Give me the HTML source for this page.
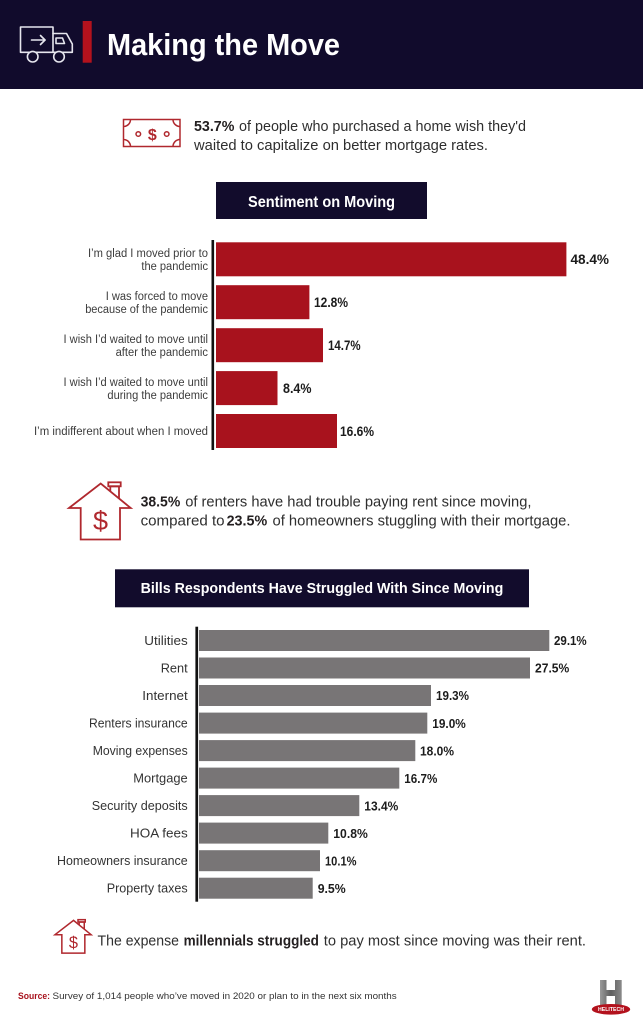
<!DOCTYPE html>
<html>
<head>
<meta charset="utf-8">
<style>
html,body{margin:0;padding:0;background:#fff;}
svg{display:block;}
text{font-family:"Liberation Sans",sans-serif;}
</style>
</head>
<body>
<svg width="643" height="1024" viewBox="0 0 643 1024" xmlns="http://www.w3.org/2000/svg">
<rect x="0" y="0" width="643" height="1024" fill="#ffffff"/>
<!-- Header -->
<rect x="0" y="0" width="643" height="89" fill="#110b2c"/>
<g fill="none" stroke="#e6e6ee" stroke-width="1.6" stroke-linejoin="round" stroke-linecap="round">
  <rect x="20.5" y="27" width="32.5" height="25.3"/>
  <line x1="31.5" y1="40" x2="45" y2="40"/>
  <polyline points="40.5,35.5 45,40 40.5,44.5"/>
  <path d="M53,33.5 L66.5,33.5 L72.3,44 L72.3,52.3 L53,52.3"/>
  <path d="M56,38 L62.5,38 L64.5,43.5 L56,43.5 Z"/>
  <circle cx="32.7" cy="56.7" r="5.3" fill="#110b2c"/>
  <circle cx="59" cy="56.7" r="5.3" fill="#110b2c"/>
</g>
<rect x="82.7" y="21" width="9" height="41.7" fill="#b3121d"/>
<text x="107" y="55" font-size="31" font-weight="bold" fill="#ffffff" textLength="233" lengthAdjust="spacingAndGlyphs">Making the Move</text>

<!-- Money icon -->
<g fill="none" stroke="#b0282e" stroke-width="1.5">
  <rect x="123.5" y="119.5" width="56.5" height="27"/>
  <path d="M123.5,126.5 A7,7 0 0 0 130.5,119.5"/>
  <path d="M173,119.5 A7,7 0 0 0 180,126.5"/>
  <path d="M123.5,139.5 A7,7 0 0 1 130.5,146.5"/>
  <path d="M173,146.5 A7,7 0 0 1 180,139.5"/>
  <circle cx="138.3" cy="134" r="2.3"/>
  <circle cx="166.7" cy="134" r="2.3"/>
</g>
<text x="152.3" y="140" font-size="16" font-weight="bold" fill="#b0282e" text-anchor="middle">$</text>

<text x="194" y="131" font-size="15" font-weight="bold" fill="#231f20" textLength="40.4" lengthAdjust="spacingAndGlyphs">53.7%</text>
<text x="239" y="131" font-size="15" fill="#2e2e2e" textLength="287" lengthAdjust="spacingAndGlyphs">of people who purchased a home wish they'd</text>
<text x="194" y="150" font-size="15" fill="#2e2e2e" textLength="294" lengthAdjust="spacingAndGlyphs">waited to capitalize on better mortgage rates.</text>

<!-- Sentiment box -->
<rect x="216" y="182" width="211" height="37" fill="#120c2c"/>
<text x="248" y="207" font-size="16" font-weight="bold" fill="#ffffff" textLength="147" lengthAdjust="spacingAndGlyphs">Sentiment on Moving</text>

<!-- Chart 1 -->
<g fill="#a8121d">
  <rect x="216" y="242.3" width="350.4" height="34"/>
  <rect x="216" y="285.2" width="93.4" height="34"/>
  <rect x="216" y="328.2" width="107" height="34"/>
  <rect x="216" y="371.1" width="61.5" height="34"/>
  <rect x="216" y="414" width="121" height="34"/>
</g>
<rect x="211.5" y="240" width="2.6" height="210" fill="#111"/>
<g font-size="11.5" fill="#3c3c3c" text-anchor="end">
  <text x="208" y="257" textLength="120" lengthAdjust="spacingAndGlyphs">I’m glad I moved prior to</text>
  <text x="208" y="270" textLength="66.6" lengthAdjust="spacingAndGlyphs">the pandemic</text>
  <text x="208" y="300" textLength="102.3" lengthAdjust="spacingAndGlyphs">I was forced to move</text>
  <text x="208" y="313" textLength="122.8" lengthAdjust="spacingAndGlyphs">because of the pandemic</text>
  <text x="208" y="343" textLength="144.5" lengthAdjust="spacingAndGlyphs">I wish I’d waited to move until</text>
  <text x="208" y="356" textLength="92.4" lengthAdjust="spacingAndGlyphs">after the pandemic</text>
  <text x="208" y="386" textLength="144.5" lengthAdjust="spacingAndGlyphs">I wish I’d waited to move until</text>
  <text x="208" y="399" textLength="100.6" lengthAdjust="spacingAndGlyphs">during the pandemic</text>
  <text x="208" y="435.2" textLength="174" lengthAdjust="spacingAndGlyphs">I’m indifferent about when I moved</text>
</g>
<g font-size="14" font-weight="bold" fill="#1c1c1c">
  <text x="570.5" y="264" textLength="38.5" lengthAdjust="spacingAndGlyphs">48.4%</text>
  <text x="314" y="307" textLength="34" lengthAdjust="spacingAndGlyphs">12.8%</text>
  <text x="328" y="350" textLength="32.6" lengthAdjust="spacingAndGlyphs">14.7%</text>
  <text x="283" y="393" textLength="28.5" lengthAdjust="spacingAndGlyphs">8.4%</text>
  <text x="340" y="436" textLength="34" lengthAdjust="spacingAndGlyphs">16.6%</text>
</g>

<!-- House icon big -->
<g id="house" fill="none" stroke="#b0282e" stroke-width="1.8" stroke-linejoin="miter">
  <path d="M69,508 L100.7,483.5 L130.7,508 L120,508 L120,539.5 L80.7,539.5 L80.7,508 Z"/>
  <path d="M110.3,491 L110.3,486.3 L119,486.3 L119,498.3"/>
  <rect x="108.3" y="482.3" width="12.4" height="4"/>
</g>
<text x="100.5" y="530" font-size="27" fill="#b0282e" text-anchor="middle">$</text>

<text x="140.6" y="506.7" font-size="15" font-weight="bold" fill="#231f20" textLength="39.7" lengthAdjust="spacingAndGlyphs">38.5%</text>
<text x="185.2" y="506.7" font-size="15" fill="#2e2e2e" textLength="346.3" lengthAdjust="spacingAndGlyphs">of renters have had trouble paying rent since moving,</text>
<text x="140.6" y="525.7" font-size="15" fill="#2e2e2e" textLength="84" lengthAdjust="spacingAndGlyphs">compared to</text>
<text x="226.6" y="525.7" font-size="15" font-weight="bold" fill="#231f20" textLength="40.6" lengthAdjust="spacingAndGlyphs">23.5%</text>
<text x="272.5" y="525.7" font-size="15" fill="#2e2e2e" textLength="298" lengthAdjust="spacingAndGlyphs">of homeowners stuggling with their mortgage.</text>

<!-- Bills box -->
<rect x="115" y="569.3" width="414" height="38" fill="#120c2c"/>
<text x="140.6" y="593" font-size="15" font-weight="bold" fill="#ffffff" textLength="362.7" lengthAdjust="spacingAndGlyphs">Bills Respondents Have Struggled With Since Moving</text>

<!-- Chart 2 -->
<g fill="#787576">
  <rect x="199" y="630" width="350.3" height="21"/>
  <rect x="199" y="657.5" width="331" height="21"/>
  <rect x="199" y="685" width="232" height="21"/>
  <rect x="199" y="712.6" width="228.3" height="21"/>
  <rect x="199" y="740.1" width="216.3" height="21"/>
  <rect x="199" y="767.6" width="200.3" height="21"/>
  <rect x="199" y="795.1" width="160.3" height="21"/>
  <rect x="199" y="822.6" width="129.3" height="21"/>
  <rect x="199" y="850.2" width="121" height="21"/>
  <rect x="199" y="877.7" width="113.7" height="21"/>
</g>
<rect x="195.4" y="626.7" width="2.7" height="275" fill="#111"/>
<g font-size="13" fill="#333" text-anchor="end">
  <text x="187.7" y="645" textLength="43.4" lengthAdjust="spacingAndGlyphs">Utilities</text>
  <text x="187.7" y="672.5" textLength="27" lengthAdjust="spacingAndGlyphs">Rent</text>
  <text x="187.7" y="700" textLength="45.4" lengthAdjust="spacingAndGlyphs">Internet</text>
  <text x="187.7" y="727.6" textLength="98.7" lengthAdjust="spacingAndGlyphs">Renters insurance</text>
  <text x="187.7" y="755.1" textLength="95" lengthAdjust="spacingAndGlyphs">Moving expenses</text>
  <text x="187.7" y="782.6" textLength="54.4" lengthAdjust="spacingAndGlyphs">Mortgage</text>
  <text x="187.7" y="810.1" textLength="96" lengthAdjust="spacingAndGlyphs">Security deposits</text>
  <text x="187.7" y="837.6" textLength="57.7" lengthAdjust="spacingAndGlyphs">HOA fees</text>
  <text x="187.7" y="865.2" textLength="130.7" lengthAdjust="spacingAndGlyphs">Homeowners insurance</text>
  <text x="187.7" y="892.7" textLength="81" lengthAdjust="spacingAndGlyphs">Property taxes</text>
</g>
<g font-size="13" font-weight="bold" fill="#1c1c1c">
  <text x="554" y="645.2" textLength="32.7" lengthAdjust="spacingAndGlyphs">29.1%</text>
  <text x="535" y="672.7" textLength="34.3" lengthAdjust="spacingAndGlyphs">27.5%</text>
  <text x="436" y="700.2" textLength="33" lengthAdjust="spacingAndGlyphs">19.3%</text>
  <text x="432.3" y="727.8" textLength="33.5" lengthAdjust="spacingAndGlyphs">19.0%</text>
  <text x="420" y="755.3" textLength="34" lengthAdjust="spacingAndGlyphs">18.0%</text>
  <text x="404.3" y="782.8" textLength="33" lengthAdjust="spacingAndGlyphs">16.7%</text>
  <text x="364.3" y="810.3" textLength="34" lengthAdjust="spacingAndGlyphs">13.4%</text>
  <text x="333.3" y="837.8" textLength="34.5" lengthAdjust="spacingAndGlyphs">10.8%</text>
  <text x="325" y="865.4" textLength="31.5" lengthAdjust="spacingAndGlyphs">10.1%</text>
  <text x="317.7" y="892.9" textLength="28" lengthAdjust="spacingAndGlyphs">9.5%</text>
</g>

<!-- Small house icon -->
<g transform="translate(55,919.5) scale(0.585) translate(-69,-482)">
  <g fill="none" stroke="#b0282e" stroke-width="2.6" stroke-linejoin="miter">
    <path d="M69,508 L100.7,483.5 L130.7,508 L120,508 L120,539.5 L80.7,539.5 L80.7,508 Z"/>
    <path d="M110.3,491 L110.3,486.3 L119,486.3 L119,498.3"/>
    <rect x="108.3" y="482.3" width="12.4" height="4"/>
  </g>
  <text x="100.5" y="531" font-size="28" fill="#b0282e" text-anchor="middle">$</text>
</g>
<text x="97.5" y="945.7" font-size="15" fill="#2e2e2e" textLength="81.5" lengthAdjust="spacingAndGlyphs">The expense</text>
<text x="183.6" y="945.7" font-size="15" font-weight="bold" fill="#231f20" textLength="135.3" lengthAdjust="spacingAndGlyphs">millennials struggled</text>
<text x="323.8" y="945.7" font-size="15" fill="#2e2e2e" textLength="262.2" lengthAdjust="spacingAndGlyphs">to pay most since moving was their rent.</text>

<!-- Source -->
<text x="18" y="999" font-size="9.5" font-weight="bold" fill="#a8121d" textLength="32" lengthAdjust="spacingAndGlyphs">Source:</text>
<text x="52.5" y="999" font-size="9.5" fill="#333" textLength="344.2" lengthAdjust="spacingAndGlyphs">Survey of 1,014 people who’ve moved in 2020 or plan to in the next six months</text>

<!-- Logo -->
<defs>
  <linearGradient id="hg" x1="0" y1="0" x2="1" y2="0">
    <stop offset="0" stop-color="#9a9a9a"/>
    <stop offset="0.5" stop-color="#5e5e5e"/>
    <stop offset="1" stop-color="#8a8a8a"/>
  </linearGradient>
</defs>
<path d="M600,980 L606.5,980 L606.5,990 L615,990 L615,980 L621.7,980 L621.7,1007 L615,1007 L615,996 L606.5,996 L606.5,1007 L600,1007 Z" fill="url(#hg)"/>
<ellipse cx="611" cy="1009.3" rx="19.2" ry="5.3" fill="#b3121d"/>
<text x="611" y="1011.2" font-size="5" font-weight="bold" fill="#ffffff" text-anchor="middle" textLength="26" lengthAdjust="spacingAndGlyphs">HELITECH</text>
</svg>
</body>
</html>
